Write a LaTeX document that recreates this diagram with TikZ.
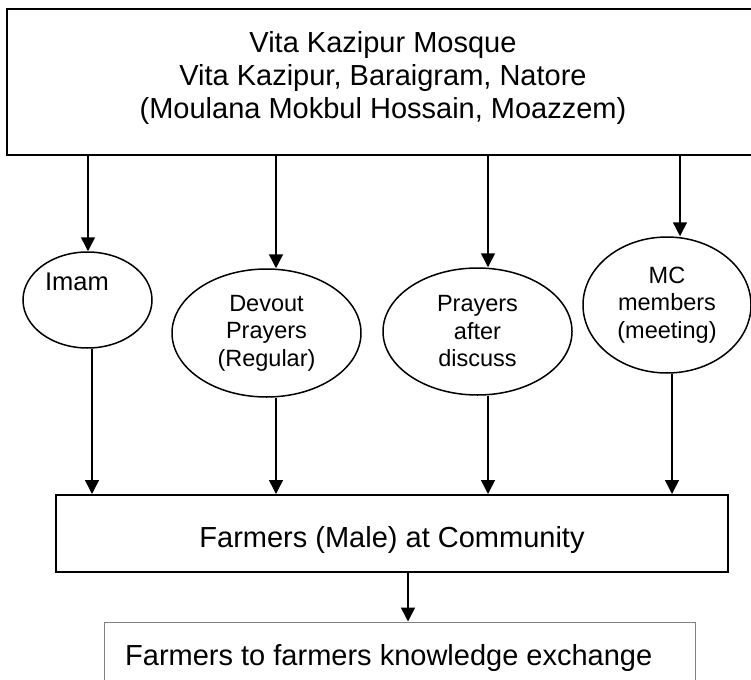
\documentclass[tikz,border=0pt]{standalone}
\usepackage{fontspec}
\setmainfont{Liberation Sans}
\usetikzlibrary{arrows.meta,shapes.geometric}
\begin{document}
\begin{tikzpicture}[x=1pt,y=-1pt,
  arr/.style={line width=1.5pt,-{Triangle[width=14pt,length=14pt]}},
  box/.style={draw,rectangle,inner sep=0pt,line width=2pt},
  oval/.style={draw,ellipse,inner sep=0pt,line width=1.5pt,align=center,font=\fontsize{23.5}{27.5}\selectfont},
  big/.style={font=\fontsize{29}{33}\selectfont,inner sep=0pt}]
\useasboundingbox (0,0) rectangle (751,679);
% top box
\node[box,line width=2.2pt,minimum width=750pt,minimum height=146pt] (top) at (382,82) {};
\node[big,align=center] (toptxt) at (383,77.5) {Vita Kazipur Mosque\\Vita Kazipur, Baraigram, Natore\\(Moulana Mokbul Hossain, Moazzem)};
% ellipses
\node[oval,minimum width=129pt,minimum height=96pt] (imam) at (87.5,300) {};
\node[font=\fontsize{25.5}{28}\selectfont,inner sep=0pt] (imamtxt) at (77,282) {Imam};
\node[oval,minimum width=189pt,minimum height=128pt] (dev) at (266.5,333) {Devout\\Prayers\\(Regular)};
\node[oval,minimum width=189pt,minimum height=127pt] (pray) at (477.5,331.5) {Prayers\\after\\discuss};
\node[oval,minimum width=168pt,minimum height=136pt] (mc) at (667,305) {MC\\members\\(meeting)};
% farmers box
\node[box,minimum width=672pt,minimum height=77pt] (farm) at (392,533.5) {};
\node[big] (farmtxt) at (392,540) {Farmers (Male) at Community};
% bottom box
\node[draw=black!50,line width=1pt,rectangle,inner sep=0pt,minimum width=591pt,minimum height=90pt] (ex) at (399.5,667) {};
\node[big,anchor=west] (extxt) at (125,658) {Farmers to farmers knowledge exchange};
% arrows from top box
\draw[arr] ([xshift=0.5pt]imam.north |- top.south) -- ([xshift=0.5pt]imam.north);
\draw[arr] ([xshift=9.5pt]dev.north |- top.south) -- ([xshift=9.5pt]dev.north);
\draw[arr] ([xshift=10.5pt]pray.north |- top.south) -- ([xshift=10.5pt]pray.north);
\draw[arr] ([xshift=13pt]mc.north |- top.south) -- ([xshift=13pt]mc.north);
% arrows to farmers box
\draw[arr] ([xshift=4.5pt]imam.south) -- ([xshift=4.5pt]imam.south |- farm.north);
\draw[arr] ([xshift=9.5pt]dev.south) -- ([xshift=9.5pt]dev.south |- farm.north);
\draw[arr] ([xshift=10.5pt]pray.south) -- ([xshift=10.5pt]pray.south |- farm.north);
\draw[arr] ([xshift=5pt]mc.south) -- ([xshift=5pt]mc.south |- farm.north);
% farmers to exchange
\draw[arr] ([xshift=16pt]farm.south) -- ([xshift=16pt]farm.south |- ex.north);
\end{tikzpicture}
\end{document}
